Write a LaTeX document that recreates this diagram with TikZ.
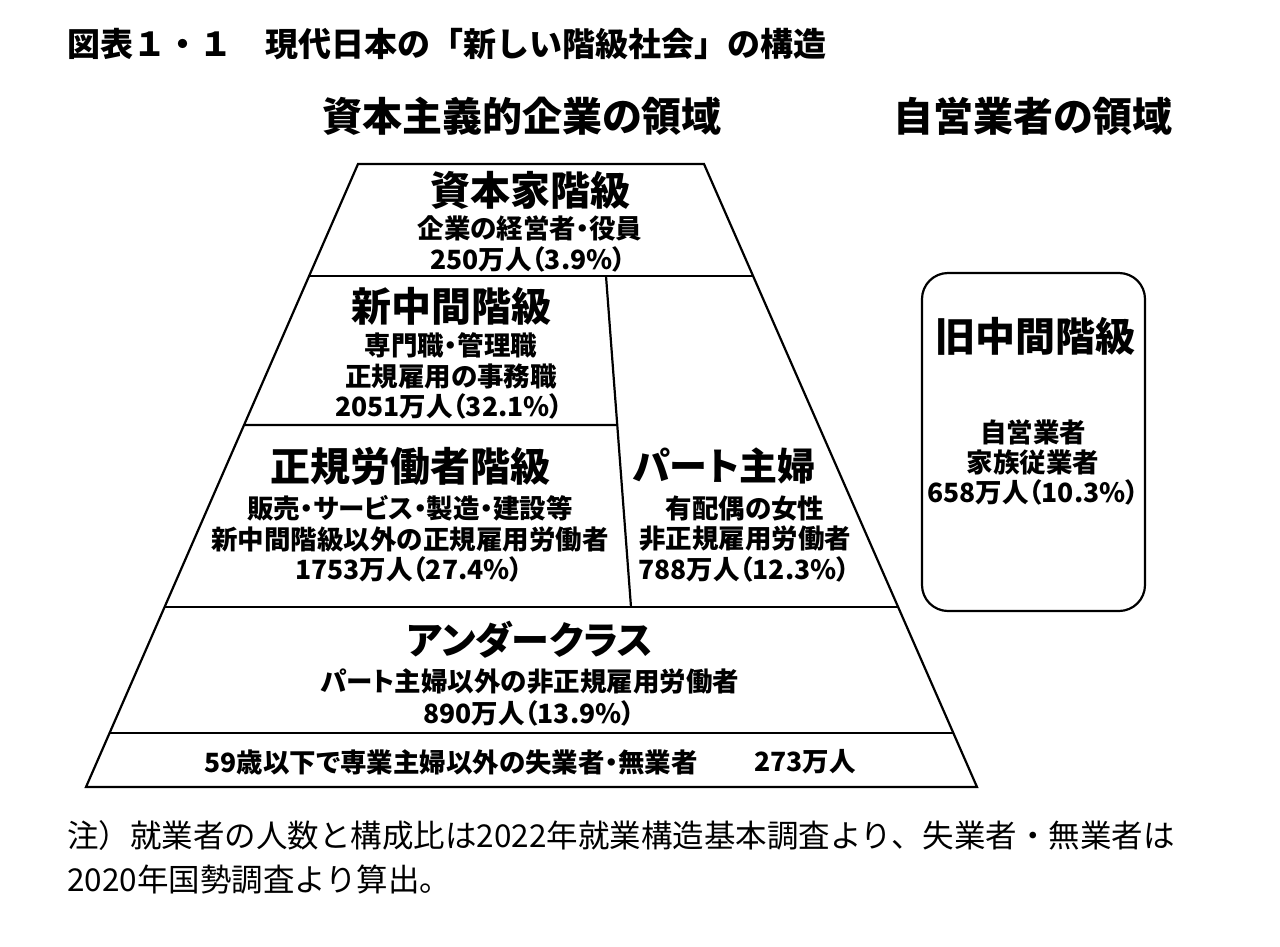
\documentclass[tikz,border=0pt]{standalone}
\usepackage{fontspec}
\setmainfont{Noto Sans CJK JP}
\newfontfamily\paltfont{Noto Sans CJK JP}[RawFeature=+palt]
\usetikzlibrary{calc}

\begin{document}
\begin{tikzpicture}[line width=2.2pt, line join=miter, x=1pt, y=-1pt,
  big/.style={font=\paltfont\fontsize{40}{40}\selectfont\bfseries, inner sep=0pt},
  kana/.style={font=\paltfont\fontsize{38}{38}\selectfont\bfseries, inner sep=0pt},
  small/.style={font=\paltfont\fontsize{26.5}{26.5}\selectfont\bfseries, inner sep=0pt},
  note/.style={font=\fontsize{31.5}{31.5}\selectfont, inner sep=0pt, anchor=west}]
  \useasboundingbox (0,0) rectangle (1280,946);
  \coordinate (tl) at (358,164);
  \coordinate (tr) at (704,164);
  \coordinate (bl) at (86,787);
  \coordinate (br) at (977,787);
  \coordinate (dt) at (606,276);
  \coordinate (db) at (631,607);
  \draw (tl) -- (tr) -- (br) -- (bl) -- cycle;
  \draw ($(tl)!0.1798!(bl)$) -- ($(tr)!0.1798!(br)$);
  \draw ($(tl)!0.7111!(bl)$) -- ($(tr)!0.7111!(br)$);
  \draw ($(tl)!0.9133!(bl)$) -- ($(tr)!0.9133!(br)$);
  \draw ($(tl)!0.4189!(bl)$) -- ($(dt)!0.4502!(db)$);
  \draw (dt) -- (db);
  \draw[rounded corners=26pt] (922,273) rectangle (1145,611);

  \node[font=\fontsize{33}{33}\selectfont\bfseries, inner sep=0pt, anchor=west] (title) at (66,44) {図表１・１　現代日本の「新しい階級社会」の構造};
  \node[big] (capitalist) at (522,116) {資本主義的企業の領域};
  \node[big] (selfemp) at (1033,116) {自営業者の領域};

  \node[big] (cap) at (530,190) {資本家階級};
  \node[small] (cap1) at (530,228) {企業の経営者・役員};
  \node[small] (cap2) at (528,259) {250万人（3.9\%）};

  \node[big] (newmid) at (451,306) {新中間階級};
  \node[small] (newmid1) at (451,345) {専門職・管理職};
  \node[small] (newmid2) at (451,376) {正規雇用の事務職};
  \node[small] (newmid3) at (449,406) {2051万人（32.1\%）};

  \node[big] (worker) at (410,466) {正規労働者階級};
  \node[small] (worker1) at (410,508) {販売・サービス・製造・建設等};
  \node[small] (worker2) at (410,539) {新中間階級以外の正規雇用労働者};
  \node[small] (worker3) at (409,569) {1753万人（27.4\%）};

  \node[kana] (wife) at (724,466) {パート主婦};
  \node[small] (wife1) at (745,508) {有配偶の女性};
  \node[small] (wife2) at (745,539) {非正規雇用労働者};
  \node[small] (wife3) at (744,569) {788万人（12.3\%）};

  \node[kana] (under) at (530,640) {アンダークラス};
  \node[small] (under1) at (530,682) {パート主婦以外の非正規雇用労働者};
  \node[small] (under2) at (529,713) {890万人（13.9\%）};

  \node[small] (jobless) at (451,762) {59歳以下で専業主婦以外の失業者・無業者};
  \node[small] (jobless1) at (805,762) {273万人};

  \node[big] (oldmid) at (1035,336) {旧中間階級};
  \node[small] (oldmid1) at (1033,432) {自営業者};
  \node[small] (oldmid2) at (1033,462) {家族従業者};
  \node[small] (oldmid3) at (1033,492) {658万人（10.3\%）};

  \node[note] (note1) at (66,836) {注）就業者の人数と構成比は2022年就業構造基本調査より、失業者・無業者は};
  \node[note] (note2) at (66,880) {2020年国勢調査より算出。};
\end{tikzpicture}
\end{document}
